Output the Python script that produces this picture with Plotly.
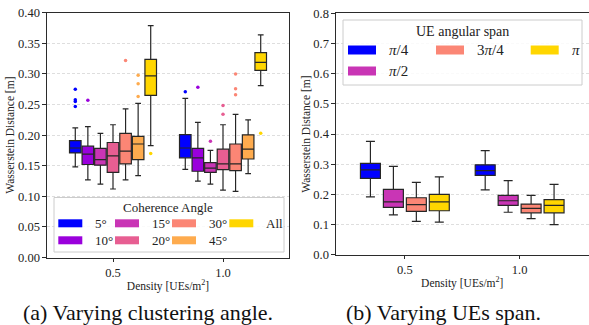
import plotly.graph_objects as go

W, H = 589, 325
SERIF = "Liberation Serif, Times New Roman, serif"

# ---------------- data ----------------
density_labels = ["0.5", "1.0"]

angle_names = ["5°", "10°", "15°", "20°", "30°", "45°", "All"]
angle_colors = ["#0000ff", "#9a00dc", "#c935b5", "#e75e92", "#fb8675", "#feab4e", "#ffd600"]
# per angle: [value at density 0.5, value at density 1.0]
angle_low = [[0.148, 0.144], [0.127, 0.125], [0.120, 0.120], [0.112, 0.110],
             [0.127, 0.108], [0.134, 0.137], [0.183, 0.281]]
angle_q1 = [[0.171, 0.163], [0.152, 0.141], [0.151, 0.139], [0.139, 0.1435],
            [0.153, 0.142], [0.160, 0.161], [0.265, 0.306]]
angle_med = [[0.179, 0.179], [0.169, 0.163], [0.160, 0.146], [0.166, 0.153],
             [0.174, 0.153], [0.1855, 0.177], [0.297, 0.319]]
angle_q3 = [[0.191, 0.201], [0.182, 0.1785], [0.1785, 0.155], [0.188, 0.177],
            [0.203, 0.1855], [0.198, 0.2005], [0.324, 0.335]]
angle_high = [[0.212, 0.260], [0.214, 0.221], [0.203, 0.175], [0.217, 0.217],
              [0.243, 0.234], [0.252, 0.225], [0.379, 0.364]]
angle_outliers = [
    [[0.275, 0.258, 0.255, 0.247], [0.271]],
    [[0.257], [0.2785]],
    [[], [0.190]],
    [[], [0.2485, 0.234]],
    [[0.322], [0.300, 0.276, 0.266]],
    [[0.298, 0.284, 0.263], []],
    [[0.170], [0.203]],
]

span_names = ["<i>π</i>/4", "<i>π</i>/2", "3<i>π</i>/4", "<i>π</i>"]
span_colors = ["#0000ff", "#c935b5", "#fb8675", "#ffd600"]
span_low = [[0.192, 0.215], [0.132, 0.141], [0.111, 0.120], [0.108, 0.100]]
span_q1 = [[0.253, 0.263], [0.157, 0.164], [0.144, 0.139], [0.146, 0.139]]
span_med = [[0.281, 0.279], [0.175, 0.179], [0.166, 0.154], [0.175, 0.164]]
span_q3 = [[0.303, 0.298], [0.217, 0.197], [0.189, 0.168], [0.200, 0.183]]
span_high = [[0.376, 0.345], [0.293, 0.246], [0.240, 0.197], [0.258, 0.233]]

# ---------------- figure ----------------
fig = go.Figure()
BOXLINE = dict(color="#262626", width=1.2)

n_a = len(angle_names)
slot_a = 0.8 / n_a
for i, name in enumerate(angle_names):
    off = (i - (n_a - 1) / 2) * slot_a
    xs = [g + off for g in range(len(density_labels))]
    fig.add_trace(go.Box(
        x=xs, q1=angle_q1[i], median=angle_med[i], q3=angle_q3[i],
        lowerfence=angle_low[i], upperfence=angle_high[i],
        width=slot_a * 0.92, whiskerwidth=0.5, fillcolor=angle_colors[i],
        line=BOXLINE, name=name, showlegend=False, xaxis="x", yaxis="y",
    ))
    ox, oy = [], []
    for g, outs in enumerate(angle_outliers[i]):
        ox += [xs[g]] * len(outs)
        oy += outs
    if oy:
        fig.add_trace(go.Scatter(
            x=ox, y=oy, mode="markers", marker=dict(size=3.5, color=angle_colors[i]),
            showlegend=False, xaxis="x", yaxis="y", hoverinfo="y",
        ))

n_s = len(span_names)
slot_s = 0.8 / n_s
for i, name in enumerate(span_names):
    off = (i - (n_s - 1) / 2) * slot_s
    xs = [g + off for g in range(len(density_labels))]
    fig.add_trace(go.Box(
        x=xs, q1=span_q1[i], median=span_med[i], q3=span_q3[i],
        lowerfence=span_low[i], upperfence=span_high[i],
        width=slot_s * 0.87, whiskerwidth=0.45, fillcolor=span_colors[i],
        line=BOXLINE, name=name, showlegend=False, xaxis="x2", yaxis="y2",
    ))


def px(p):
    return p / W


def py(p):
    return 1 - p / H


TITLE_FONT = dict(family=SERIF, size=11.5, color="#222")
axis_common = dict(
    showline=True, mirror=True, linecolor="#2b2b2b", linewidth=1.2,
    ticks="outside", ticklen=3.5, tickwidth=1, tickcolor="#2b2b2b",
    tickfont=dict(family=SERIF, size=12.5, color="#222"), zeroline=False,
    automargin=False,
)
xcommon = dict(axis_common, tickvals=[0, 1], ticktext=density_labels,
               range=[-0.6, 1.6], showgrid=False,
               title=dict(text="Density [UEs/m<sup>2</sup>]", font=TITLE_FONT, standoff=2))
ycommon = dict(axis_common, showgrid=True, gridcolor="#dedede", griddash="3px,2px",
               gridwidth=0.8,
               title=dict(text="Wasserstein Distance [m]", font=TITLE_FONT, standoff=0))

fig.update_layout(
    width=W, height=H, margin=dict(l=0, r=0, t=0, b=0),
    paper_bgcolor="white", plot_bgcolor="white", boxmode="overlay",
    showlegend=False,
    xaxis=dict(xcommon, domain=[px(47), px(289)], anchor="y"),
    yaxis=dict(ycommon, domain=[py(257.5), py(12.8)], range=[0, 0.4],
               dtick=0.05, tickformat=".2f", anchor="x"),
    xaxis2=dict(xcommon, domain=[px(336), px(588.5)], anchor="y2"),
    yaxis2=dict(ycommon, domain=[py(254.8), py(13.3)], range=[0, 0.8],
                dtick=0.1, tickformat=".1f", anchor="x2"),
    font=dict(family=SERIF, color="#222"),
)

ann = []
shapes = []

# captions
ann.append(dict(text="(a) Varying clustering angle.", x=px(148), y=py(312),
                font=dict(size=22, color="#111")))
ann.append(dict(text="(b) Varying UEs span.", x=px(443), y=py(312),
                font=dict(size=22, color="#111")))

# legend (a)
shapes.append(dict(type="rect", xref="paper", yref="paper", x0=px(54), x1=px(284),
                   y0=py(252), y1=py(197.5), fillcolor="rgba(255,255,255,0.85)",
                   line=dict(color="#cccccc", width=1), layer="above"))
ann.append(dict(text="Coherence Angle", x=px(168), y=py(207.5), font=dict(size=13)))
col_sw_a = [58.3, 115, 172, 229.3]
row_y_a = [223.3, 240.3]
for i, name in enumerate(angle_names):
    c, r = divmod(i, 2)
    x0 = col_sw_a[c]
    yc = row_y_a[r]
    shapes.append(dict(type="rect", xref="paper", yref="paper", x0=px(x0), x1=px(x0 + 24),
                       y0=py(yc + 4), y1=py(yc - 4), fillcolor=angle_colors[i],
                       line=dict(width=0), layer="above"))
    ann.append(dict(text=name, x=px(x0 + 34.5), y=py(yc), xanchor="left",
                    font=dict(size=13)))

# legend (b)
shapes.append(dict(type="rect", xref="paper", yref="paper", x0=px(343), x1=px(582),
                   y0=py(85), y1=py(20), fillcolor="rgba(255,255,255,0.85)",
                   line=dict(color="#cccccc", width=1), layer="above"))
ann.append(dict(text="UE angular span", x=px(462), y=py(31), font=dict(size=14)))
col_sw_b = [348, 436, 530.7]
row_y_b = [50, 71]
for i, name in enumerate(span_names):
    c, r = divmod(i, 2) if i < 2 else (i - 1, 0)
    x0 = col_sw_b[c]
    yc = row_y_b[r]
    shapes.append(dict(type="rect", xref="paper", yref="paper", x0=px(x0), x1=px(x0 + 28),
                       y0=py(yc + 4.5), y1=py(yc - 4.5), fillcolor=span_colors[i],
                       line=dict(width=0), layer="above"))
    ann.append(dict(text=name, x=px(x0 + 39), y=py(yc), xanchor="left",
                    font=dict(size=15)))

for a in ann:
    a.setdefault("xref", "paper")
    a.setdefault("yref", "paper")
    a.setdefault("showarrow", False)
    a.setdefault("xanchor", "center")
    a.setdefault("yanchor", "middle")
fig.update_layout(annotations=ann, shapes=shapes)

fig.write_html("out.html")
